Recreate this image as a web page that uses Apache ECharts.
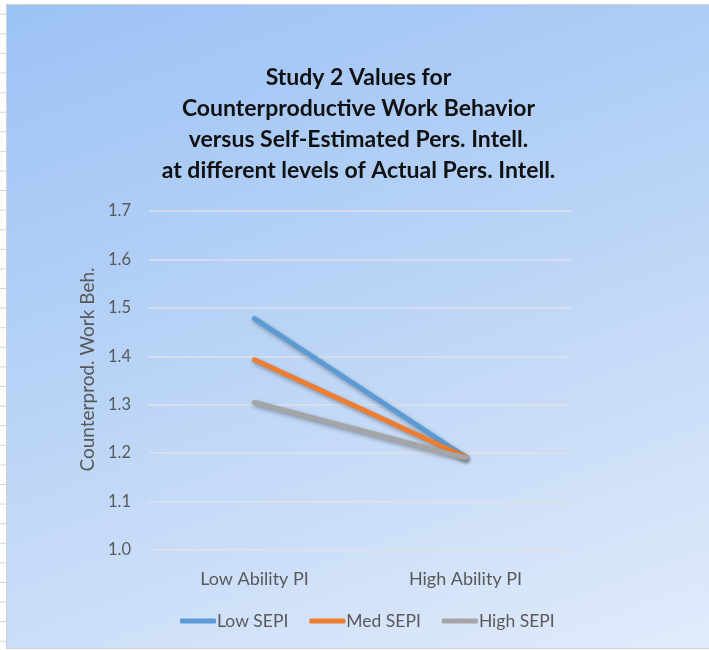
<!DOCTYPE html>
<html>
<head>
<meta charset="utf-8">
<script src="https://cdn.jsdelivr.net/npm/echarts@6/dist/echarts.min.js"></script>
<style>
  html, body { margin: 0; padding: 0; }
  body {
    width: 709px; height: 650px; overflow: hidden; position: relative;
    background-color: #ffffff;
    background-image:
      repeating-linear-gradient(to right, transparent 0, transparent 61px, #d4d4d4 61px, #d4d4d4 62px),
      repeating-linear-gradient(to bottom, transparent 0, transparent 14px, #d4d4d4 14px, #d4d4d4 15px);
    background-size: 59.3px 100%, 100% 19.6px;
    background-position: 2px 0, 0 0;
  }
  #frame {
    position: absolute; left: 6px; top: 4px; width: 703px; height: 643px;
    border: 1px solid #cfcfcf; border-right: none;
    background: linear-gradient(160deg, #9cc2f5 0%, #b8d3f6 45%, #d2e2f9 80%, #e1ebfb 100%);
  }
  #chart { position: absolute; left: 0; top: 0; width: 703px; height: 643px; }
</style>
</head>
<body>
<div id="frame"><div id="chart"></div></div>
<script>
  // Chart content
  const titleLines = [
    'Study 2 Values for',
    'Counterproductive Work Behavior',
    'versus Self-Estimated Pers. Intell.',
    'at different levels of Actual Pers. Intell.'
  ];
  const categories = ['Low Ability PI', 'High Ability PI'];
  const seriesNames = ['Low SEPI', 'Med SEPI', 'High SEPI'];
  const lowSEPI = [1.478, 1.192];
  const medSEPI = [1.393, 1.192];
  const highSEPI = [1.305, 1.190];
  const yTicks = { min: 1.0, max: 1.7, interval: 0.1 };
  const yAxisName = 'Counterprod. Work Beh.';

  const colors = ['#5b9bd5', '#ed7d31', '#a5a5a5'];
  const fontFamily = 'Lato, "Noto Sans", sans-serif';

  const chart = echarts.init(document.getElementById('chart'), null, { renderer: 'canvas' });

  const lineSeries = [lowSEPI, medSEPI, highSEPI].map((vals, i) => ({
    name: seriesNames[i],
    type: 'line',
    data: vals,
    symbol: 'none',
    z: 3 + i,
    lineStyle: {
      width: 5,
      color: colors[i],
      cap: 'round',
      shadowColor: 'rgba(0,0,0,0.35)',
      shadowBlur: 4,
      shadowOffsetX: 1,
      shadowOffsetY: 2
    },
    itemStyle: { color: colors[i] },
    emphasis: { disabled: true }
  }));

  chart.setOption({
    backgroundColor: 'transparent',
    animation: false,
    color: colors,
    title: {
      text: titleLines.join('\n'),
      left: 'center',
      top: 52,
      textStyle: {
        fontFamily: fontFamily,
        fontWeight: 'bold',
        fontSize: 23,
        lineHeight: 31,
        color: '#111111'
      }
    },
    grid: { left: 142, right: 139, top: 206, bottom: 98, containLabel: false },
    xAxis: {
      type: 'category',
      data: categories,
      boundaryGap: true,
      axisLine: { show: false },
      axisTick: { show: false },
      axisLabel: {
        margin: 20,
        fontFamily: fontFamily,
        fontSize: 18,
        color: '#595959'
      }
    },
    yAxis: {
      type: 'value',
      min: yTicks.min,
      max: yTicks.max,
      interval: yTicks.interval,
      name: yAxisName,
      nameLocation: 'middle',
      nameGap: 50,
      nameRotate: 90,
      nameTextStyle: {
        fontFamily: fontFamily,
        fontSize: 19,
        color: '#595959',
        padding: [0, 0, 0, 22]
      },
      axisLine: { show: false },
      axisTick: { show: false },
      axisLabel: {
        margin: 18,
        fontFamily: fontFamily,
        fontSize: 16.5,
        color: '#595959',
        formatter: v => v.toFixed(1)
      },
      splitLine: { lineStyle: { color: 'rgba(222,226,232,0.95)', width: 1.5 } }
    },
    legend: {
      data: seriesNames,
      bottom: 13,
      left: 168,
      itemWidth: 36,
      itemHeight: 5,
      itemGap: 21,
      icon: 'roundRect',
      textStyle: {
        fontFamily: fontFamily,
        fontSize: 17.5,
        color: '#595959',
        padding: [0, 0, 0, -4]
      }
    },
    series: lineSeries
  });
</script>
</body>
</html>
